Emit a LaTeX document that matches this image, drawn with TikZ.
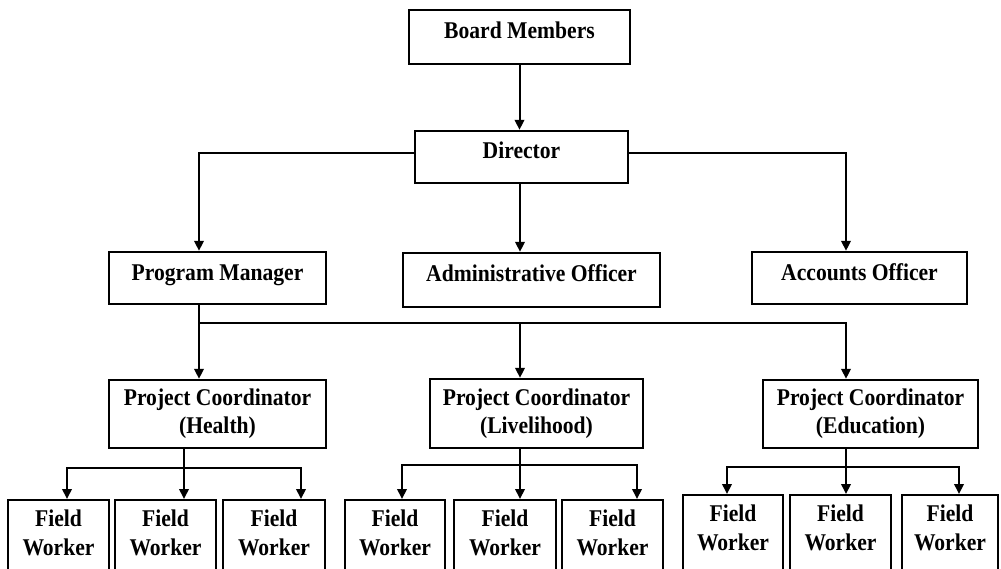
\documentclass[tikz,border=0pt]{standalone}
\usepackage{fontspec}
\setmainfont{Liberation Serif}[FakeStretch=0.9]
\usetikzlibrary{arrows.meta}
\begin{document}
\begin{tikzpicture}[x=1pt,y=-1pt,
  box/.style={draw, line width=2.4pt, inner sep=0pt, font=\bfseries\fontsize{24}{28}\selectfont, align=center},
  onebox/.style={box, text height=16pt, text depth=12pt},
  fwbox/.style={draw, line width=2.4pt, inner sep=0pt, minimum width=101pt, minimum height=100pt, anchor=north},
  fwtext/.style={inner sep=0pt, font=\bfseries\fontsize{24}{29}\selectfont, align=center},
  conn/.style={line width=2pt},
  arr/.style={conn, -{Triangle[length=10pt,width=9.5pt]}}]
\useasboundingbox (0,0) rectangle (1001,569);
\clip (0,0) rectangle (1001,569);

% top levels
\node[onebox, minimum width=221pt, minimum height=54pt] (board) at (519.5,37) {Board Members};
\node[onebox, minimum width=213pt, minimum height=52pt] (dir) at (521.5,157) {Director};
\node[onebox, minimum width=217pt, minimum height=52pt] (pm) at (217.5,278) {Program Manager};
\node[onebox, minimum width=257pt, minimum height=54pt] (adm) at (531.5,280) {Administrative Officer};
\node[onebox, minimum width=215pt, minimum height=52pt] (acc) at (859.5,278) {Accounts Officer};

% project coordinators
\node[box, minimum width=217pt, minimum height=68pt] (pch) at (217.5,414) {Project Coordinator\\(Health)};
\node[box, minimum width=213pt, minimum height=69pt] (pcl) at (536.5,413.5) {Project Coordinator\\(Livelihood)};
\node[box, minimum width=215pt, minimum height=68pt] (pce) at (870.5,414) {Project Coordinator\\(Education)};

% field workers (health)
\node[fwbox] (h1) at (58.5,499) {};
\node[fwbox] (h2) at (165.5,499) {};
\node[fwbox, minimum width=102pt] (h3) at (274,499) {};
% field workers (livelihood)
\node[fwbox, minimum width=100pt] (l1) at (395,499) {};
\node[fwbox, minimum width=102pt] (l2) at (505,499) {};
\node[fwbox] (l3) at (612.5,499) {};
% field workers (education)
\node[fwbox, minimum width=100pt] (e1) at (733,494) {};
\node[fwbox] (e2) at (840.5,494) {};
\node[fwbox, minimum width=96pt] (e3) at (950,494) {};

\foreach \b in {h1,h2,h3,l1,l2,l3} {
  \node[fwtext] (\b t) at ([yshift=-33.5pt]\b.north) {Field\\Worker};
}
\foreach \b in {e1,e2,e3} {
  \node[fwtext] (\b t) at ([yshift=-34pt]\b.north) {Field\\Worker};
}

% connectors top
\draw[arr] (board.south) -- (board.south |- dir.north);
\draw[arr] ([yshift=4pt]dir.west) -| ([xshift=-18.5pt]pm.north);
\draw[arr] ([xshift=-1.5pt]dir.south) -- ([xshift=-11.5pt]adm.north);
\draw[arr] ([yshift=4pt]dir.east) -| ([xshift=-13.5pt]acc.north);

% program manager to coordinators
\coordinate (j1) at (199,323);
\draw[arr] ([xshift=-18.5pt]pm.south) -- ([xshift=-18.5pt]pch.north);
\draw[arr] (j1) -| ([xshift=-16.5pt]pcl.north);
\draw[arr] (j1) -| ([xshift=-24.5pt]pce.north);

% health branch
\coordinate (hj) at (184,468);
\draw[conn] ([xshift=-33.5pt]pch.south) -- (hj);
\draw[arr] (hj) -| ([xshift=8.5pt]h1.north);
\draw[arr] (hj) -- ([xshift=18.5pt]h2.north);
\draw[arr] (hj) -| ([xshift=27pt]h3.north);

% livelihood branch
\coordinate (lj) at (520,465);
\draw[conn] ([xshift=-16.5pt]pcl.south) -- (lj);
\draw[arr] (lj) -| ([xshift=7pt]l1.north);
\draw[arr] (lj) -- ([xshift=15pt]l2.north);
\draw[arr] (lj) -| ([xshift=24.5pt]l3.north);

% education branch
\coordinate (ej) at (846,467);
\draw[conn] ([xshift=-24.5pt]pce.south) -- (ej);
\draw[arr] (ej) -| ([xshift=-6pt]e1.north);
\draw[arr] (ej) -- ([xshift=5.5pt]e2.north);
\draw[arr] (ej) -| ([xshift=9pt]e3.north);
\end{tikzpicture}
\end{document}
